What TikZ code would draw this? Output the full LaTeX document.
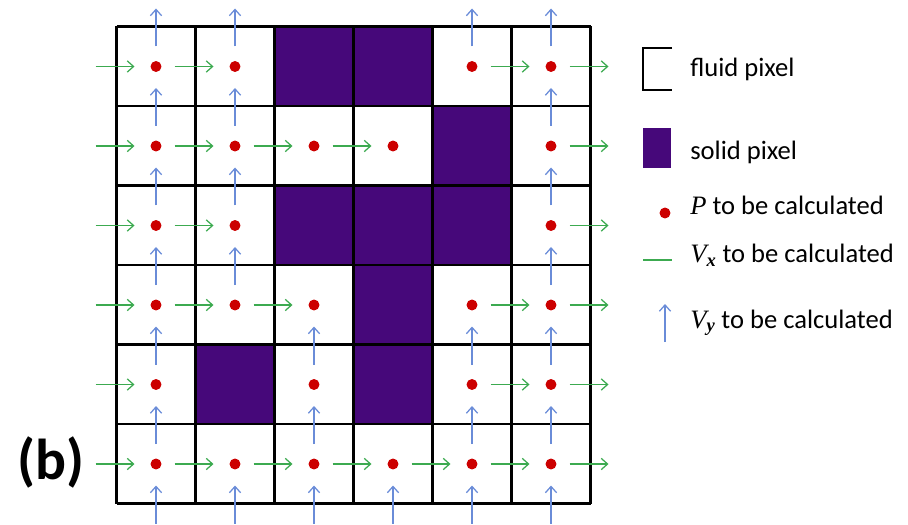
\documentclass[tikz,border=0pt]{standalone}
\usepackage{fontspec}
\setmainfont{Carlito}
\newfontfamily\varfont{Liberation Serif}
\usetikzlibrary{arrows.meta}
\definecolor{pxSolid}{HTML}{46087A}
\definecolor{pxVx}{HTML}{3CAA50}
\definecolor{pxVy}{HTML}{6A8CD8}
\definecolor{pxP}{HTML}{CC0000}

\begin{document}
\begin{tikzpicture}[x=0.025cm, y=-0.025cm,
  gridline/.style={draw=black, line width=1.7pt},
  vxarr/.style={-{Straight Barb[length=4.5pt,width=8pt]}, pxVx, line width=0.9pt},
  vyarr/.style={-{Straight Barb[length=4.5pt,width=8pt]}, pxVy, line width=0.9pt},
  pdot/.style={circle, fill=pxP, inner sep=0pt, minimum size=7.8pt},
  legtext/.style={anchor=base west, inner sep=0pt, font=\fontsize{18.9}{21}\selectfont}
]
  \useasboundingbox (0,0) rectangle (908,525);
  \def\cw{79}\def\ch{79.5}

  % solid pixels
  \foreach \r/\c in {0/2,0/3,1/4,2/2,2/3,2/4,3/3,4/1,4/3}
    \fill[pxSolid] ({116.5+\c*\cw},{26.5+\r*\ch}) rectangle ++(\cw,\ch);

  % grid
  \foreach \i in {0,...,6} {
    \draw[gridline] ({116.5+\i*\cw},26.5) -- ++(0,{6*\ch});
    \draw[gridline] (116.5,{26.5+\i*\ch}) -- ++({6*\cw},0);
  }

  % pressure points
  \foreach \r/\cols in {0/{0,1,4,5},1/{0,1,2,3,5},2/{0,1,5},3/{0,1,2,4,5},4/{0,2,4,5},5/{0,1,2,3,4,5}}
    \foreach \c in \cols
      \node[pdot] (p\r\c) at ({156+\c*\cw},{66.5+\r*\ch}) {};

  % Vx on vertical faces
  \foreach \r/\faces in {0/{0,1,5,6},1/{0,1,2,3,6},2/{0,1,6},3/{0,1,2,5,6},4/{0,5,6},5/{0,1,2,3,4,5,6}}
    \foreach \f in \faces
      \draw[vxarr] ({116.5+\f*\cw-21},{66.5+\r*\ch}) -- ++(39,0);

  % Vy on horizontal faces
  \foreach \f/\cols in {0/{0,1,4,5},1/{0,1,5},2/{0,1,5},3/{0,1,5},4/{0,2,4,5},5/{0,2,4,5},6/{0,1,2,3,4,5}}
    \foreach \c in \cols
      \draw[vyarr] ({156+\c*\cw},{26.5+\f*\ch+20}) -- ++(0,-38);

  % legend
  \draw[line width=1.2pt] (672,48) -- (643,48) -- (643,90) -- (672,90);
  \fill[pxSolid] (643,128) rectangle (671,168);
  \node[pdot] (legP) at (665,213) {};
  \draw[pxVx, line width=1pt] (643,260) -- (672,260);
  \draw[vyarr] (665,342) -- (665,304);

  \node[legtext] (tFluid) at (690,77) {fluid pixel};
  \node[legtext] (tSolid) at (690,160) {solid pixel};
  \node[legtext] (tP) at (690,215) {{\varfont\itshape P} to be calculated};
  \node[legtext] (tVx) at (690,263) {{\varfont\itshape V}\textsubscript{\varfont\bfseries\itshape x} to be calculated};
  \node[legtext] (tVy) at (690,328) {{\varfont\itshape V}\textsubscript{\varfont\bfseries\itshape y} to be calculated};

  \node[font=\fontsize{41}{41}\selectfont\bfseries] (lbl) at (51,462) {(b)};
\end{tikzpicture}
\end{document}
